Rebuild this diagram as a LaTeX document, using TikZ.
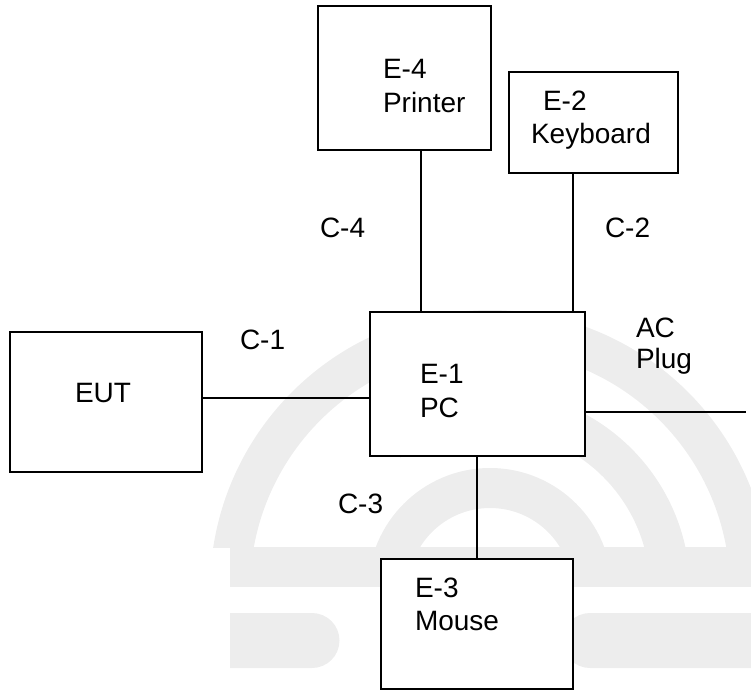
\documentclass[tikz,border=0pt]{standalone}
\usepackage{fontspec}
\setmainfont{Liberation Sans}
\definecolor{wm}{HTML}{EDEDED}
\begin{document}
\begin{tikzpicture}[x=1pt,y=-1pt,
  box/.style={draw=black,fill=white,line width=1.6pt,inner sep=0pt,outer sep=0pt},
  lbl/.style={inner sep=0pt,outer sep=0pt,anchor=base west,font=\fontsize{28}{33}\selectfont},
  wire/.style={draw=black,line width=1.6pt}]
\useasboundingbox (0,0) rectangle (751,691);
% faint watermark (background)
\begin{scope}
  \clip (200,280) rectangle (751,547);
  \fill[wm,even odd rule] (490,590) circle[radius=280] (490,590) circle[radius=240];
\end{scope}
\begin{scope}
  \clip (400,280) rectangle (751,547);
  \fill[wm,even odd rule] (490,590) circle[radius=200] (490,590) circle[radius=160];
\end{scope}
\begin{scope}
  \clip (200,280) rectangle (751,547);
  \fill[wm,even odd rule] (490,590) circle[radius=122] (490,590) circle[radius=82];
\end{scope}
\fill[wm] (230,547) rectangle (751,587);
\fill[wm] (751,613) -- (590,613) arc[start angle=270,end angle=90,radius=27.5] -- (751,668) -- cycle;
\fill[wm] (230,613) -- (312,613) arc[start angle=270,end angle=450,radius=27.5] -- (230,668) -- cycle;
% boxes
\node[box,minimum width=173pt,minimum height=144pt] (pr) at (404.5,78) {};
\node[box,minimum width=169pt,minimum height=101pt] (kb) at (593.5,122.5) {};
\node[box,minimum width=215pt,minimum height=144pt] (pc) at (477.5,384) {};
\node[box,minimum width=192pt,minimum height=140pt] (eut) at (106,402) {};
\node[box,minimum width=192pt,minimum height=130pt] (ms) at (477,624) {};
% connector columns
\coordinate (xpr) at (421,0);
\coordinate (xkb) at (573,0);
\coordinate (xms) at (477,0);
\coordinate (yeut) at (0,398);
\coordinate (yac) at (0,412);
\coordinate (acend) at (746,412);
\draw[wire] (pr.south -| xpr) -- (pc.north -| xpr);
\draw[wire] (kb.south -| xkb) -- (pc.north -| xkb);
\draw[wire] (eut.east |- yeut) -- (pc.west |- yeut);
\draw[wire] (pc.east |- yac) -- (acend);
\draw[wire] (pc.south -| xms) -- (ms.north -| xms);
% labels
\node[lbl] (t4a) at (383,78) {E-4};
\node[lbl] (t4b) at (383,112) {Printer};
\node[lbl] (t2a) at (543,110) {E-2};
\node[lbl] (t2b) at (531,143) {Keyboard};
\node[lbl] (c4) at (320,237) {C-4};
\node[lbl] (c2) at (605,237) {C-2};
\node[lbl] (c1) at (240,349) {C-1};
\node[lbl] (aca) at (636,337) {AC};
\node[lbl] (acb) at (636,368) {Plug};
\node[lbl] (t1a) at (420,383) {E-1};
\node[lbl] (t1b) at (420,417) {PC};
\node[lbl] (eutl) at (75,402) {EUT};
\node[lbl] (c3) at (338,513) {C-3};
\node[lbl] (t3a) at (415,597) {E-3};
\node[lbl] (t3b) at (415,630) {Mouse};
\end{tikzpicture}
\end{document}
